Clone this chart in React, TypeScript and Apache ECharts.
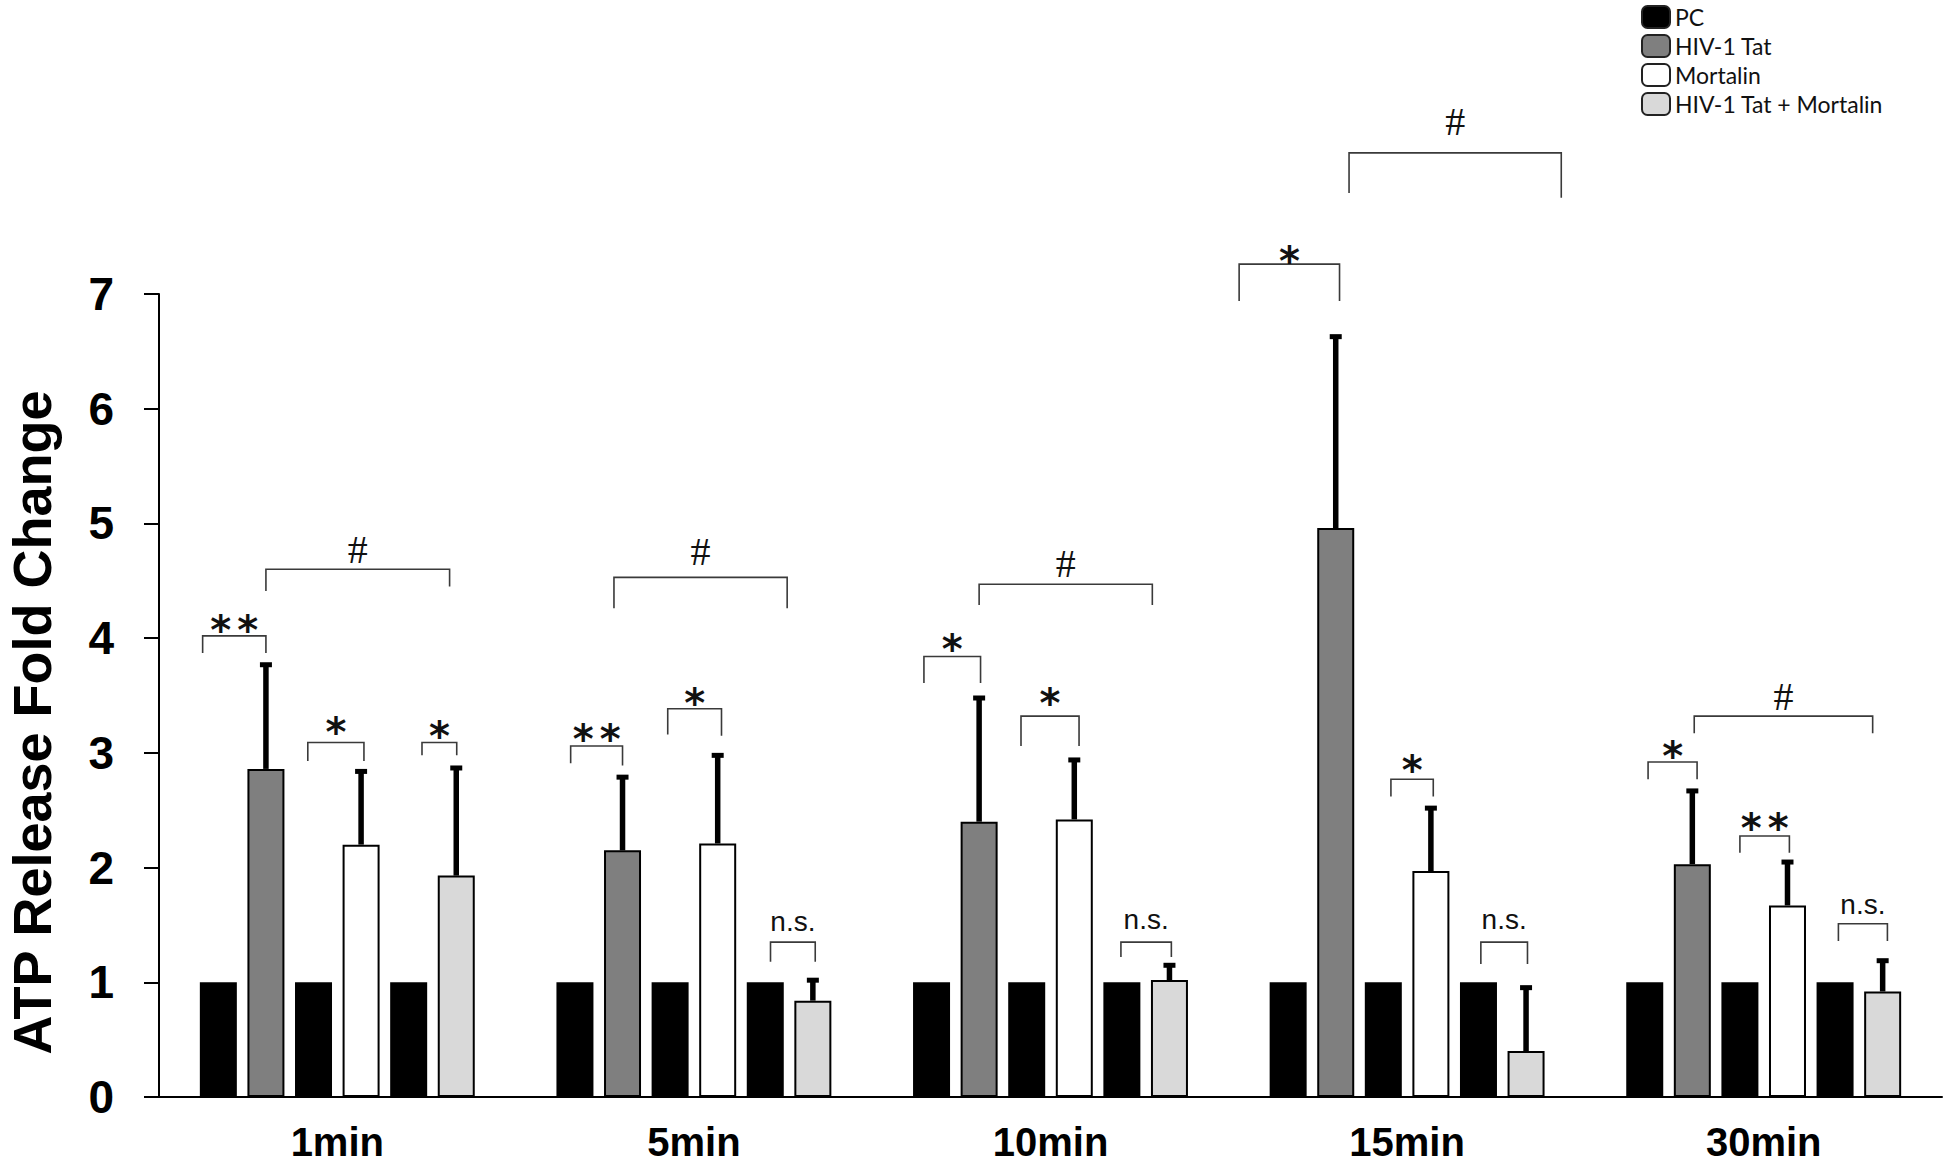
import React, { useEffect, useRef } from "react";
import * as echarts from "echarts";

// ---------- data ----------
const categories = ["1min", "5min", "10min", "15min", "30min"];
const legendNames = ["PC", "HIV-1 Tat", "Mortalin", "HIV-1 Tat + Mortalin"];
const pcValues = [1, 1, 1, 1, 1];
const tatValues = [2.86, 2.15, 2.4, 4.96, 2.03];
const tatErrors = [0.93, 0.66, 1.1, 1.69, 0.66];
const mortalinValues = [2.2, 2.21, 2.42, 1.97, 1.67];
const mortalinErrors = [0.66, 0.79, 0.54, 0.57, 0.4];
const comboValues = [1.93, 0.84, 1.02, 0.4, 0.92];
const comboErrors = [0.96, 0.2, 0.15, 0.575, 0.29];
const yMin = 0;
const yMax = 7;
const yInterval = 1;

// significance brackets: group, from bar slot, to bar slot, bracket value,
// left leg end value, right leg end value, label value, label
const annGroup = [0, 0, 0, 0, 1, 1, 1, 1, 2, 2, 2, 2, 3, 3, 3, 3, 4, 4, 4, 4];
const annFrom = [-0.33, 1.0, 1.88, 4.28, -0.09, 1.95, 4.11, 0.82, -0.16, 1.88, 3.98, 1.0, -1.03, 2.16, 4.05, 1.28, 0.07, 2.0, 4.07, 1.04];
const annTo = [1.0, 4.86, 3.06, 5.01, 1.0, 3.08, 5.05, 4.46, 1.03, 3.1, 5.04, 4.64, 1.08, 3.05, 5.03, 5.74, 1.1, 3.04, 5.1, 4.79];
const annLevel = [4.02, 4.6, 3.09, 3.09, 3.06, 3.385, 1.35, 4.53, 3.84, 3.32, 1.35, 4.47, 7.26, 2.77, 1.35, 8.23, 2.92, 2.275, 1.51, 3.32];
const annLegL = [3.87, 4.41, 2.93, 2.98, 2.91, 3.16, 1.18, 4.26, 3.61, 3.06, 1.22, 4.29, 6.94, 2.62, 1.16, 7.88, 2.77, 2.13, 1.36, 3.17];
const annLegR = [3.87, 4.45, 2.93, 2.98, 2.89, 3.15, 1.18, 4.26, 3.61, 3.06, 1.22, 4.29, 6.94, 2.62, 1.16, 7.84, 2.77, 2.13, 1.36, 3.17];
const annTextValue = [4.13, 4.78, 3.245, 3.21, 3.18, 3.5, 1.51, 4.76, 3.97, 3.5, 1.53, 4.66, 7.35, 2.91, 1.53, 8.51, 3.03, 2.41, 1.66, 3.5];
const annLabel = ["* *", "#", "*", "*", "* *", "*", "n.s.", "#", "*", "*", "n.s.", "#", "*", "*", "n.s.", "#", "*", "* *", "n.s.", "#"];

// ---------- styles ----------
const BAR_WIDTH = 37;
const BAR_GAP = 0.286;
const PITCH = BAR_WIDTH * (1 + BAR_GAP);
const STAR_PITCH = 27;
const SANS = "'Liberation Sans', Arial, sans-serif";

function labelStyle(label: string) {
  if (label === "#") {
    return { font: "40px 'Liberation Serif', serif", dy: 1 };
  }
  if (label === "n.s.") {
    return { font: "28px 'Liberation Sans', sans-serif", dy: -2 };
  }
  return { font: "bold 40px 'DejaVu Sans', sans-serif", dy: 7 };
}

function errorSeries(values: number[], errors: number[], slot: number) {
  return {
    type: "custom",
    coordinateSystem: "cartesian2d",
    silent: true,
    z: 5,
    data: values.map((v, i) => [i, v, errors[i]]),
    renderItem: (params: any, api: any) => {
      const idx = api.value(0);
      const mean = api.value(1);
      const err = api.value(2);
      const base = api.coord([idx, mean]);
      const top = api.coord([idx, mean + err]);
      const x = base[0] + (slot - 2.5) * PITCH;
      return {
        type: "group",
        children: [
          {
            type: "line",
            shape: { x1: x, y1: base[1], x2: x, y2: top[1] + 2 },
            style: { stroke: "#000", lineWidth: 5.5 },
          },
          {
            type: "rect",
            shape: { x: x - 6, y: top[1], width: 12, height: 5 },
            style: { fill: "#000" },
          },
        ],
      };
    },
  };
}

const annotationSeries = {
  type: "custom",
  coordinateSystem: "cartesian2d",
  silent: true,
  z: 6,
  data: annGroup.map((g, i) => [g, annLevel[i]]),
  renderItem: (params: any, api: any) => {
    const i = params.dataIndex;
    const g = annGroup[i];
    const center = api.coord([g, annLevel[i]]);
    const xAt = (s: number) => center[0] + (s - 2.5) * PITCH;
    const yAt = (v: number) => api.coord([g, v])[1];
    const x0 = xAt(annFrom[i]);
    const x1 = xAt(annTo[i]);
    const y = center[1];
    const ls = labelStyle(annLabel[i]);
    const parts = annLabel[i] === "* *" ? ["*", "*"] : [annLabel[i]];
    const mid = (x0 + x1) / 2;
    const ty = yAt(annTextValue[i]) + ls.dy;
    const texts = parts.map((t, k) => ({
      type: "text",
      x: mid + (k - (parts.length - 1) / 2) * STAR_PITCH,
      y: ty,
      style: {
        text: t,
        font: ls.font,
        fill: "#111",
        align: "center",
        verticalAlign: "middle",
      },
    }));
    return {
      type: "group",
      children: [
        {
          type: "polyline",
          shape: {
            points: [
              [x0, yAt(annLegL[i])],
              [x0, y],
              [x1, y],
              [x1, yAt(annLegR[i])],
            ],
          },
          style: { stroke: "#3a3a3a", lineWidth: 1.6, fill: null },
        },
        ...texts,
      ],
    };
  },
};

function barSeries(name: string, values: number[], color: string, bordered: boolean) {
  return {
    type: "bar",
    name,
    data: values,
    barWidth: BAR_WIDTH,
    barGap: `${BAR_GAP * 100}%`,
    itemStyle: {
      color,
      borderColor: "#000",
      borderWidth: bordered ? 2 : 0,
    },
  };
}

export default function App() {
  const ref = useRef<HTMLDivElement>(null);
  useEffect(() => {
    if (!ref.current) return;
    const chart = echarts.init(ref.current, undefined, { renderer: "svg" });
    chart.setOption({
      animation: false,
      backgroundColor: "#fff",
      legend: {
        data: legendNames,
        orient: "vertical",
        left: 1641,
        top: 5,
        padding: 0,
        itemWidth: 28,
        itemHeight: 22,
        itemGap: 5,
        icon: "roundRect",
        itemStyle: { borderColor: "#222", borderWidth: 2 },
        textStyle: {
          fontFamily: "Lato, 'Open Sans', sans-serif",
          fontSize: 23,
          lineHeight: 22,
          color: "#111",
        },
        selectedMode: false,
      },
      grid: { left: 159, right: 4, top: 294, bottom: 70, outerBoundsMode: "none", containLabel: false },
      xAxis: {
        type: "category",
        data: categories,
        axisLine: { lineStyle: { color: "#000", width: 2 } },
        axisTick: { show: false },
        axisLabel: {
          margin: 32,
          fontFamily: SANS,
          fontWeight: "bold",
          fontSize: 40,
          lineHeight: 26,
          color: "#000",
        },
      },
      yAxis: {
        type: "value",
        min: yMin,
        max: yMax,
        interval: yInterval,
        name: "ATP Release Fold Change",
        nameLocation: "middle",
        nameRotate: 90,
        nameGap: 102,
        nameTextStyle: {
          fontFamily: SANS,
          fontWeight: "bold",
          fontSize: 54,
          lineHeight: 50,
          color: "#000",
          padding: [0, 54, 0, 0],
        },
        axisLine: { show: true, lineStyle: { color: "#000", width: 2 } },
        axisTick: { show: true, length: 15, lineStyle: { color: "#000", width: 2 } },
        splitLine: { show: false },
        axisLabel: {
          margin: 45,
          fontFamily: SANS,
          fontWeight: "bold",
          fontSize: 46,
          color: "#000",
        },
      },
      series: [
        barSeries("PC", pcValues, "#000", false),
        barSeries("HIV-1 Tat", tatValues, "#7f7f7f", true),
        barSeries("PC", pcValues, "#000", false),
        barSeries("Mortalin", mortalinValues, "#fff", true),
        barSeries("PC", pcValues, "#000", false),
        barSeries("HIV-1 Tat + Mortalin", comboValues, "#d9d9d9", true),
        errorSeries(tatValues, tatErrors, 1),
        errorSeries(mortalinValues, mortalinErrors, 3),
        errorSeries(comboValues, comboErrors, 5),
        annotationSeries,
      ],
    });
    return () => chart.dispose();
  }, []);
  return (
    <div
      ref={ref}
      style={{ position: "absolute", left: 0, top: 0, width: 1946, height: 1167, background: "#fff" }}
    />
  );
}
